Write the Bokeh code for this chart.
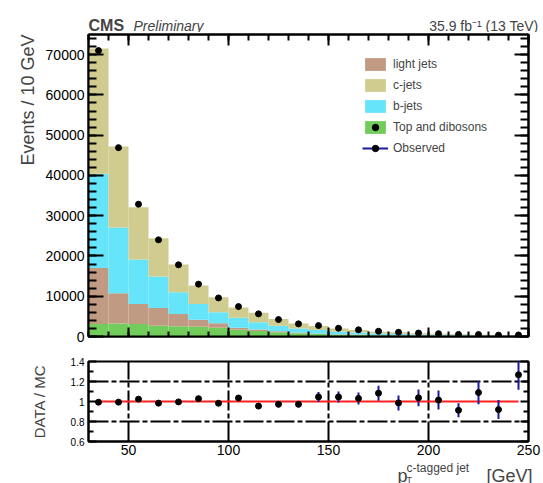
import numpy as np
from bokeh.plotting import figure
from bokeh.layouts import column
from bokeh.models import (LinearAxis, SingleIntervalTicker, FixedTicker,
                          Range1d, Label, Legend, LegendItem, Title, PrintfTickFormatter)
from bokeh.embed import file_html
from bokeh.resources import INLINE

# ---------------- data ----------------
bin_low = list(range(30, 250, 10))          # 10 GeV bins, 30 .. 250
top_dibosons = [3100, 3250, 3100, 2700, 2550, 2400, 2150, 1650, 1350, 1050, 800,
                620, 480, 380, 290, 255, 195, 165, 135, 108, 88, 72]
light_jets = [13900, 7500, 5000, 4400, 3050, 1730, 1150, 500, 380, 250, 200,
              130, 100, 100, 70, 65, 50, 42, 35, 27, 22, 18]
b_jets = [23400, 16350, 11000, 7800, 5370, 3960, 2700, 2480, 1810, 1400, 1000,
          850, 620, 490, 370, 330, 255, 213, 180, 140, 115, 95]
c_jets = [31100, 20100, 13000, 9500, 6900, 4550, 3750, 2550, 2350, 1630, 1230,
          1000, 760, 630, 470, 415, 320, 270, 220, 175, 145, 115]
observed = [71000, 46900, 32850, 24000, 17800, 13000, 9580, 7430, 5620, 4210, 3140,
            2720, 2050, 1650, 1300, 1050, 850, 700, 520, 490, 340, 380]
ratio_err = [0.01, 0.01, 0.01, 0.01, 0.01, 0.012, 0.014, 0.016, 0.03, 0.03, 0.03,
             0.05, 0.055, 0.06, 0.075, 0.075, 0.083, 0.095, 0.07, 0.117, 0.095, 0.15]
x_major_ticks = [50, 100, 150, 200, 250]
ratio_ticks = [0.6, 0.8, 1.0, 1.2, 1.4]
ratio_minor_ticks = [0.7, 0.9, 1.1, 1.3]
ratio_dash_levels = [0.8, 1.2]

BIN_W = 10
FONT = "Liberation Sans"
W = 543
col_light = "#C19A83"
col_c = "#D0CC90"
col_b = "#66E4FA"
col_top = "#72CC5C"
col_err = "#1A1AA0"

left = np.array(bin_low, dtype=float)
right = left + BIN_W
centers = left + BIN_W / 2
g = np.array(top_dibosons, float)
l = np.array(light_jets, float)
b = np.array(b_jets, float)
c = np.array(c_jets, float)
obs = np.array(observed, float)
s1 = g
s2 = s1 + l
s3 = s2 + b
s4 = s3 + c
mc_total = s4
ratio = obs / mc_total
rerr = np.array(ratio_err, float)


def text_strip(height):
    s = figure(width=W, height=height, x_range=Range1d(0, W), y_range=Range1d(0, height),
               output_backend="svg", toolbar_location=None, x_axis_type=None, y_axis_type=None,
               min_border=0, frame_align=False)
    s.grid.visible = False
    s.outline_line_color = None
    return s


# ---------------- header strip ----------------
hdr = text_strip(32)
hdr.add_layout(Label(x=88, y=7, text="CMS", text_font=FONT, text_font_style="bold",
                     text_font_size="16px", text_baseline="alphabetic"))
hdr.add_layout(Label(x=133, y=7, text="Preliminary", text_font=FONT, text_font_style="italic",
                     text_font_size="14px", text_baseline="alphabetic"))
hdr.add_layout(Label(x=538, y=7, text="35.9 fb\u207b\u00b9 (13 TeV)", text_font=FONT,
                     text_font_size="14px", text_align="right", text_baseline="alphabetic"))

# ---------------- top panel ----------------
xr = Range1d(30, 250)
p1 = figure(width=W, height=314, x_range=xr, y_range=Range1d(0, 75000),
            output_backend="svg", toolbar_location=None,
            min_border_left=88, min_border_right=15, min_border_top=2, min_border_bottom=10)
p1.grid.visible = False
p1.outline_line_color = "black"
p1.outline_line_width = 2


def style_axis(ax, major_in, minor_in, label_size=None):
    ax.axis_line_width = 2
    ax.axis_line_color = "black"
    ax.major_tick_in = major_in
    ax.major_tick_out = 0
    ax.minor_tick_in = minor_in
    ax.minor_tick_out = 0
    ax.major_tick_line_width = 2
    ax.minor_tick_line_width = 2
    ax.major_tick_line_color = "black" if major_in > 0 else None
    ax.minor_tick_line_color = "black" if minor_in > 0 else None
    if label_size is None:
        ax.major_label_text_font_size = "0px"
        ax.major_label_standoff = 0
    else:
        ax.major_label_text_font_size = label_size
        ax.major_label_text_font = FONT
        ax.major_label_text_color = "black"
        ax.major_label_standoff = 4


xt = SingleIntervalTicker(interval=50, num_minor_ticks=5)
yt = SingleIntervalTicker(interval=10000, num_minor_ticks=5)

p1.xaxis.ticker = xt
style_axis(p1.xaxis[0], 9, 5)
p1.yaxis.ticker = yt
style_axis(p1.yaxis[0], 15, 8, "14px")
ax_top = LinearAxis(ticker=xt)
style_axis(ax_top, 11, 6)
p1.add_layout(ax_top, "above")
ax_right = LinearAxis(ticker=yt)
style_axis(ax_right, 14, 8)
p1.add_layout(ax_right, "right")

r_top = p1.quad(left=left, right=right, bottom=0, top=s1, fill_color=col_top, line_color=None)
r_light = p1.quad(left=left, right=right, bottom=s1, top=s2, fill_color=col_light, line_color=None)
r_b = p1.quad(left=left, right=right, bottom=s2, top=s3, fill_color=col_b, line_color=None)
r_c = p1.quad(left=left, right=right, bottom=s3, top=s4, fill_color=col_c, line_color=None)
obs_err = np.sqrt(obs)
r_seg = p1.segment(x0=centers, y0=obs - obs_err, x1=centers, y1=obs + obs_err,
                   line_color=col_err, line_width=2)
# small marker (hidden under the data dots) used for the legend symbols
r_small = p1.scatter(centers, obs, size=3.5, color="black")
r_dot = p1.scatter(centers, obs, size=6, color="black")

legend = Legend(items=[
    LegendItem(label="light jets", renderers=[r_light]),
    LegendItem(label="c-jets", renderers=[r_c]),
    LegendItem(label="b-jets", renderers=[r_b]),
    LegendItem(label="Top and dibosons", renderers=[r_top, r_small]),
    LegendItem(label="Observed", renderers=[r_seg, r_small]),
], location=(274, 180), padding=0, spacing=5, glyph_width=26, glyph_height=16,
    label_standoff=5, border_line_color=None, background_fill_alpha=0,
    label_text_font_size="12px", label_text_font=FONT)
p1.add_layout(legend)

p1.add_layout(Title(text="Events / 10 GeV", align="right", text_font_size="18px",
                    text_font=FONT, text_font_style="normal"), "left")

# ---------------- ratio panel ----------------
p2 = figure(width=W, height=113, x_range=xr, y_range=Range1d(0.6, 1.4),
            output_backend="svg", toolbar_location=None,
            min_border_left=88, min_border_right=15, min_border_top=15, min_border_bottom=18)
p2.outline_line_color = "black"
p2.outline_line_width = 2
p2.xaxis.ticker = FixedTicker(ticks=x_major_ticks)
style_axis(p2.xaxis[0], 0, 0, "14px")
p2.xaxis[0].major_label_standoff = 3
p2.yaxis.ticker = FixedTicker(ticks=ratio_ticks, minor_ticks=ratio_minor_ticks)
p2.yaxis.formatter = PrintfTickFormatter(format="%g")
style_axis(p2.yaxis[0], 8, 5, "10px")
p2.yaxis.axis_label = "DATA / MC"
p2.yaxis.axis_label_text_font = FONT
p2.yaxis.axis_label_text_font_size = "15px"
p2.yaxis.axis_label_text_font_style = "normal"
p2.yaxis.axis_label_standoff = 20
ax_r2 = LinearAxis(ticker=FixedTicker(ticks=ratio_ticks, minor_ticks=ratio_minor_ticks))
style_axis(ax_r2, 8, 5)
p2.add_layout(ax_r2, "right")

p2.xgrid.ticker = FixedTicker(ticks=x_major_ticks)
p2.ygrid.ticker = FixedTicker(ticks=ratio_dash_levels)
for gr in (p2.xgrid[0], p2.ygrid[0]):
    gr.grid_line_color = "black"
    gr.grid_line_width = 2
    gr.grid_line_dash = "20 3 5 3"

p2.line(centers, np.ones_like(centers), line_color="#FF2020", line_width=2)
p2.segment(x0=centers, y0=ratio - rerr, x1=centers, y1=ratio + rerr,
           line_color=col_err, line_width=2)
p2.scatter(centers, ratio, size=6, color="black")

# ---------------- x-axis title strip ----------------
xl = text_strip(24)
xl.add_layout(Label(x=397, y=8, text="p", text_font=FONT,
                    text_font_size="18px", text_baseline="alphabetic"))
xl.add_layout(Label(x=406, y=4, text="T", text_font=FONT,
                    text_font_size="9px", text_baseline="alphabetic"))
xl.add_layout(Label(x=406, y=16, text="c-tagged jet", text_font=FONT,
                    text_font_size="12px", text_baseline="alphabetic"))
xl.add_layout(Label(x=532, y=8, text="[GeV]", text_font=FONT,
                    text_font_size="18px", text_align="right", text_baseline="alphabetic"))

layout = column(hdr, p1, p2, xl, spacing=0)
open("out.html", "w").write(file_html(layout, INLINE))
